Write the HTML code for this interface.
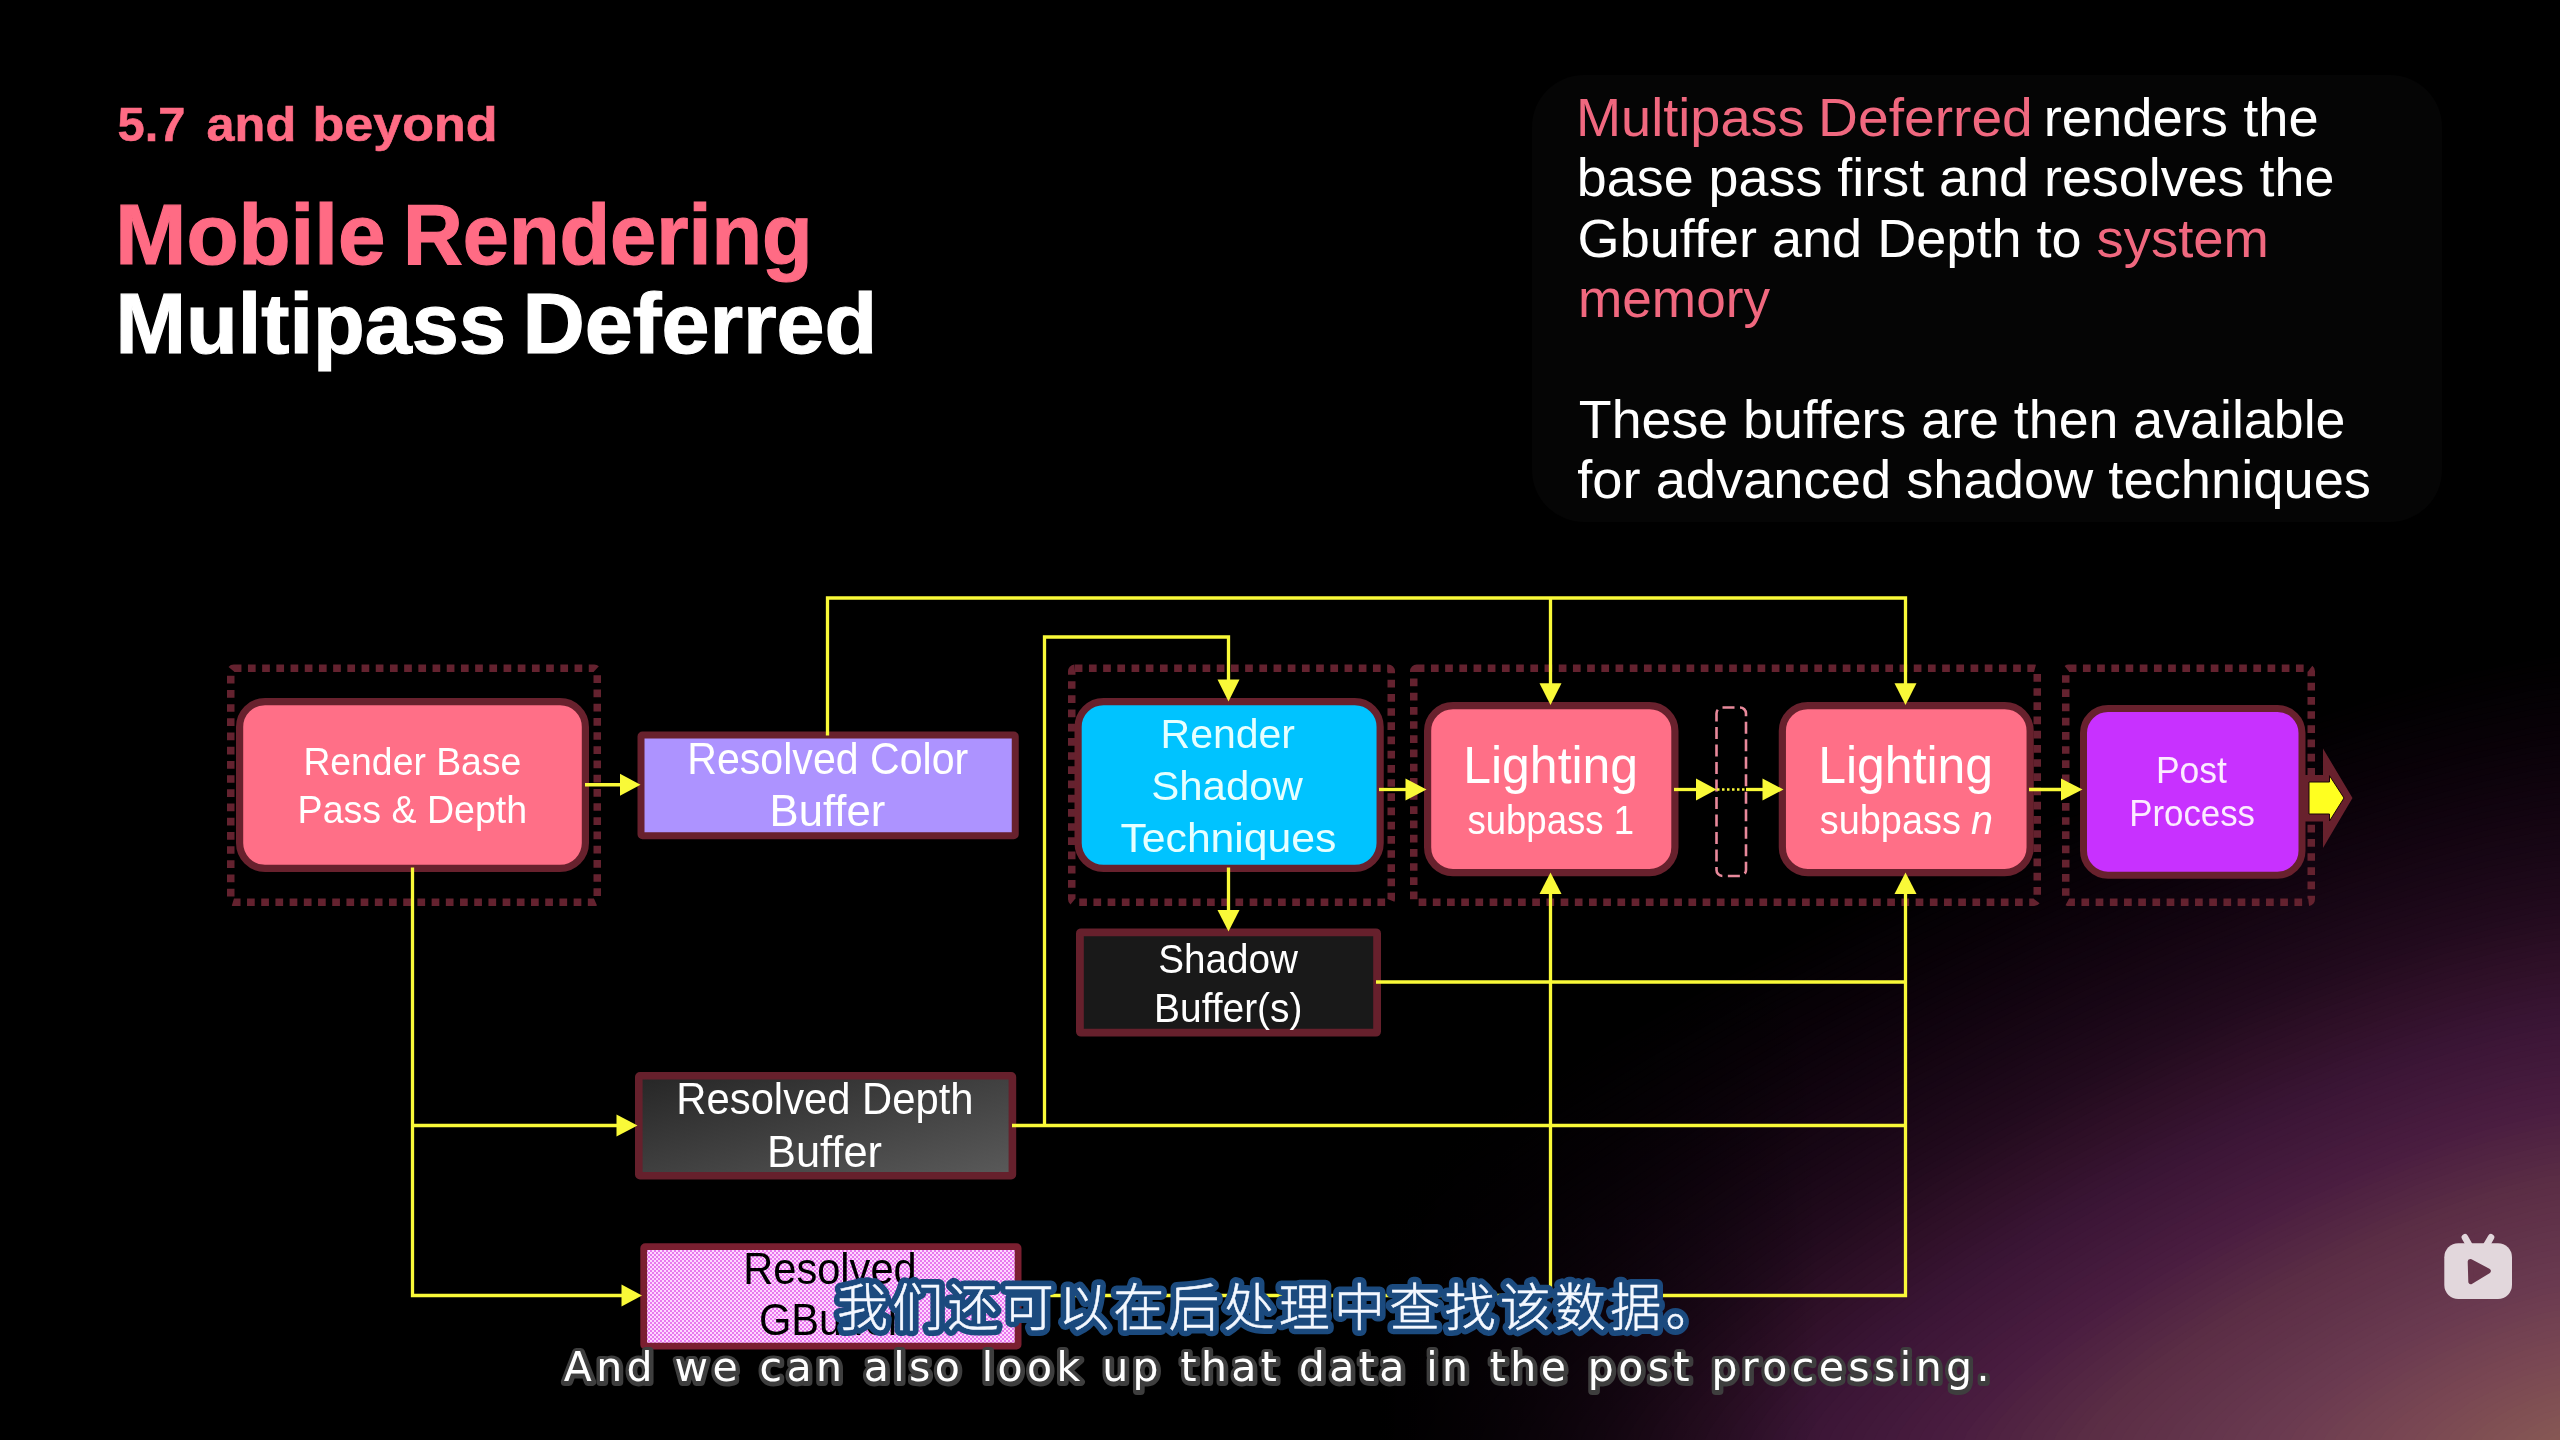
<!DOCTYPE html>
<html lang="zh"><head><meta charset="utf-8"><title>Mobile Rendering - Multipass Deferred</title>
<style>
html,body{margin:0;padding:0;background:#000;}
body{width:2560px;height:1440px;overflow:hidden;position:relative;font-family:"Liberation Sans",sans-serif;}
#bg{position:absolute;left:0;top:0;width:2560px;height:1440px;background:#000;}
svg{position:absolute;left:0;top:0;}
</style></head><body>
<div id="bg"></div>
<svg width="2560" height="1440" viewBox="0 0 2560 1440" style="will-change:transform">
<defs>
<linearGradient id="depthg" x1="0" y1="0" x2="1" y2="1"><stop offset="0" stop-color="#262626"/><stop offset="1" stop-color="#5a5a5a"/></linearGradient>
<pattern id="chk" width="4" height="4" patternUnits="userSpaceOnUse"><rect width="4" height="4" fill="#FFD6FF"/><rect width="2" height="2" fill="#E878EE"/><rect x="2" y="2" width="2" height="2" fill="#E878EE"/></pattern>
</defs>

<g shape-rendering="geometricPrecision">
<polygon points="1131,1440 1140,1422 1165,1387 1205,1342 1262,1290 1332,1232 1415,1170 1509,1107 1612,1043 1722,980 1836,920 1952,863 2068,812 2180,766 2286,728 2381,697 2463,674 2527,661 2560,656 2570,656 2570,1450 1131,1450" fill="rgb(1,0,1)"/>
<polygon points="1142,1440 1151,1422 1175,1387 1216,1343 1272,1291 1342,1233 1424,1172 1517,1109 1619,1046 1728,984 1842,924 1957,868 2072,817 2183,772 2288,733 2383,703 2464,680 2527,667 2560,662 2570,662 2570,1450 1142,1450" fill="rgb(2,0,1)"/>
<polygon points="1154,1440 1162,1422 1186,1388 1227,1344 1282,1292 1351,1235 1433,1174 1525,1112 1627,1049 1735,987 1848,928 1962,872 2076,822 2186,777 2290,739 2384,709 2465,686 2527,673 2560,669 2570,669 2570,1450 1154,1450" fill="rgb(2,0,2)"/>
<polygon points="1165,1440 1173,1422 1197,1388 1237,1344 1292,1293 1361,1237 1442,1177 1534,1115 1634,1052 1742,991 1853,932 1967,877 2080,827 2189,782 2292,745 2386,714 2466,693 2527,679 2560,675 2570,675 2570,1450 1165,1450" fill="rgb(3,0,2)"/>
<polygon points="1176,1440 1184,1422 1208,1389 1248,1345 1303,1294 1371,1238 1451,1179 1542,1117 1642,1055 1748,995 1859,936 1972,881 2084,832 2192,787 2294,750 2387,720 2466,699 2528,685 2560,681 2570,681 2570,1450 1176,1450" fill="rgb(3,0,3)"/>
<polygon points="1188,1440 1196,1422 1219,1389 1259,1346 1313,1295 1380,1240 1460,1181 1550,1120 1649,1058 1755,998 1865,940 1976,886 2088,837 2195,793 2297,756 2388,726 2467,705 2528,691 2560,687 2570,687 2570,1450 1188,1450" fill="rgb(4,1,4)"/>
<polygon points="1199,1440 1207,1423 1230,1389 1269,1347 1323,1297 1390,1242 1469,1183 1558,1122 1657,1062 1761,1002 1870,944 1981,891 2091,841 2198,798 2299,761 2390,732 2468,711 2528,698 2560,693 2570,693 2570,1450 1199,1450" fill="rgb(5,1,4)"/>
<polygon points="1210,1440 1218,1423 1241,1390 1280,1347 1333,1298 1400,1243 1478,1185 1567,1125 1664,1065 1768,1005 1876,948 1986,895 2095,846 2201,803 2301,767 2391,738 2469,717 2528,704 2560,699 2570,699 2570,1450 1210,1450" fill="rgb(5,1,5)"/>
<polygon points="1221,1440 1229,1423 1252,1390 1291,1348 1343,1299 1409,1245 1487,1187 1575,1128 1672,1068 1775,1009 1882,953 1991,900 2099,851 2204,809 2303,773 2393,744 2469,723 2529,710 2560,706 2570,706 2570,1450 1221,1450" fill="rgb(6,1,5)"/>
<polygon points="1232,1440 1240,1423 1263,1391 1301,1349 1354,1300 1419,1246 1496,1189 1583,1130 1679,1071 1781,1013 1887,957 1996,904 2103,856 2207,814 2305,778 2394,750 2470,729 2529,716 2560,712 2570,712 2570,1450 1232,1450" fill="rgb(7,1,6)"/>
<polygon points="1255,1440 1263,1423 1285,1392 1323,1351 1374,1303 1438,1250 1514,1194 1600,1136 1694,1077 1794,1020 1899,965 2005,913 2111,866 2213,825 2310,789 2397,761 2472,741 2529,728 2560,724 2570,724 2570,1450 1255,1450" fill="rgb(8,1,7)"/>
<polygon points="1266,1440 1274,1423 1296,1392 1333,1351 1384,1304 1448,1251 1523,1196 1608,1138 1701,1080 1801,1024 1905,969 2010,918 2115,871 2216,830 2312,795 2398,767 2472,747 2530,734 2560,730 2570,730 2570,1450 1266,1450" fill="rgb(9,1,7)"/>
<polygon points="1278,1440 1285,1424 1307,1392 1344,1352 1395,1305 1458,1253 1532,1198 1616,1141 1709,1084 1808,1027 1910,973 2015,922 2118,876 2219,835 2314,801 2400,773 2473,753 2530,741 2560,736 2570,736 2570,1450 1278,1450" fill="rgb(9,1,8)"/>
<polygon points="1289,1440 1296,1424 1318,1393 1355,1353 1405,1306 1467,1255 1541,1200 1625,1143 1716,1087 1814,1031 1916,977 2019,927 2122,881 2222,841 2316,806 2401,779 2474,759 2530,747 2560,743 2570,743 2570,1450 1289,1450" fill="rgb(10,2,9)"/>
<polygon points="1300,1440 1307,1424 1329,1393 1365,1354 1415,1307 1477,1256 1550,1202 1633,1146 1724,1090 1821,1034 1922,981 2024,931 2126,886 2225,846 2318,812 2402,785 2475,765 2530,753 2560,749 2570,749 2570,1450 1300,1450" fill="rgb(11,2,10)"/>
<polygon points="1311,1440 1319,1424 1340,1394 1376,1354 1425,1309 1487,1258 1559,1204 1641,1149 1731,1093 1827,1038 1927,985 2029,936 2130,891 2228,851 2320,817 2404,791 2476,771 2531,759 2560,755 2570,755 2570,1450 1311,1450" fill="rgb(12,2,10)"/>
<polygon points="1322,1440 1330,1424 1351,1394 1387,1355 1435,1310 1496,1260 1568,1206 1650,1151 1739,1096 1834,1042 1933,989 2034,941 2134,896 2231,856 2322,823 2405,796 2476,777 2531,765 2560,761 2570,761 2570,1450 1322,1450" fill="rgb(12,2,11)"/>
<polygon points="1334,1440 1341,1424 1362,1394 1397,1356 1446,1311 1506,1261 1577,1208 1658,1154 1746,1099 1841,1045 1939,994 2039,945 2138,901 2234,862 2325,829 2407,802 2477,783 2531,771 2560,767 2570,767 2570,1450 1334,1450" fill="rgb(13,3,12)"/>
<polygon points="1345,1440 1352,1424 1373,1395 1408,1357 1456,1312 1516,1263 1586,1211 1666,1157 1754,1102 1847,1049 1944,998 2043,950 2142,906 2237,867 2327,834 2408,808 2478,789 2532,777 2560,773 2570,773 2570,1450 1345,1450" fill="rgb(14,3,12)"/>
<polygon points="1356,1440 1363,1425 1384,1395 1419,1357 1466,1313 1525,1264 1595,1213 1674,1159 1761,1105 1854,1053 1950,1002 2048,954 2146,911 2240,872 2329,840 2410,814 2479,795 2532,783 2560,780 2570,780 2570,1450 1356,1450" fill="rgb(15,3,13)"/>
<polygon points="1368,1440 1374,1425 1395,1396 1429,1358 1476,1314 1535,1266 1604,1215 1683,1162 1769,1109 1860,1056 1956,1006 2053,959 2149,916 2243,878 2331,845 2411,820 2479,801 2532,790 2560,786 2570,786 2570,1450 1368,1450" fill="rgb(16,3,14)"/>
<polygon points="1379,1440 1386,1425 1406,1396 1440,1359 1487,1316 1545,1268 1613,1217 1691,1164 1776,1112 1867,1060 1962,1010 2058,963 2153,921 2246,883 2333,851 2412,826 2480,807 2532,796 2560,792 2570,792 2570,1450 1379,1450" fill="rgb(16,4,15)"/>
<polygon points="1390,1440 1397,1425 1417,1397 1451,1360 1497,1317 1554,1269 1622,1219 1699,1167 1784,1115 1874,1063 1967,1014 2063,968 2157,926 2249,888 2335,857 2414,831 2481,813 2533,802 2560,798 2570,798 2570,1450 1390,1450" fill="rgb(17,4,15)"/>
<polygon points="1401,1440 1408,1425 1428,1397 1461,1361 1507,1318 1564,1271 1631,1221 1707,1170 1791,1118 1880,1067 1973,1018 2067,972 2161,930 2252,894 2338,862 2415,837 2482,819 2533,808 2560,804 2570,804 2570,1450 1401,1450" fill="rgb(18,4,16)"/>
<polygon points="1412,1440 1419,1425 1439,1397 1472,1361 1517,1319 1574,1273 1640,1223 1716,1172 1798,1121 1887,1071 1979,1022 2072,977 2165,935 2255,899 2340,868 2417,843 2482,825 2533,814 2560,810 2570,810 2570,1450 1412,1450" fill="rgb(19,4,17)"/>
<polygon points="1424,1440 1430,1425 1450,1398 1483,1362 1527,1320 1583,1274 1649,1225 1724,1175 1806,1124 1893,1074 1984,1026 2077,981 2169,940 2258,904 2342,874 2418,849 2483,831 2533,820 2560,817 2570,817 2570,1450 1424,1450" fill="rgb(20,5,17)"/>
<polygon points="1435,1440 1442,1426 1461,1398 1493,1363 1538,1322 1593,1276 1658,1228 1732,1178 1813,1127 1900,1078 1990,1030 2082,986 2173,945 2261,909 2344,879 2419,855 2484,837 2534,826 2560,823 2570,823 2570,1450 1435,1450" fill="rgb(21,5,18)"/>
<polygon points="1446,1440 1453,1426 1472,1399 1504,1364 1548,1323 1603,1278 1667,1230 1741,1180 1821,1130 1907,1081 1996,1035 2086,990 2177,950 2264,915 2346,885 2421,861 2485,843 2534,833 2560,829 2570,829 2570,1450 1446,1450" fill="rgb(22,6,19)"/>
<polygon points="1458,1440 1464,1426 1483,1399 1515,1364 1558,1324 1612,1279 1676,1232 1749,1183 1828,1134 1913,1085 2001,1039 2091,995 2180,955 2267,920 2348,890 2422,867 2485,849 2534,839 2560,835 2570,835 2570,1450 1458,1450" fill="rgb(22,6,20)"/>
<polygon points="1469,1440 1475,1426 1494,1400 1525,1365 1568,1325 1622,1281 1685,1234 1757,1185 1836,1137 1920,1089 2007,1043 2096,1000 2184,960 2270,925 2351,896 2424,872 2486,855 2534,845 2560,841 2570,841 2570,1450 1469,1450" fill="rgb(23,6,21)"/>
<polygon points="1480,1440 1486,1426 1505,1400 1536,1366 1579,1326 1632,1283 1694,1236 1765,1188 1843,1140 1926,1092 2013,1047 2101,1004 2188,965 2273,931 2353,902 2425,878 2487,861 2535,851 2560,848 2570,848 2570,1450 1480,1450" fill="rgb(24,7,21)"/>
<polygon points="1491,1440 1498,1426 1516,1400 1547,1367 1589,1327 1641,1284 1703,1238 1774,1191 1851,1143 1933,1096 2019,1051 2106,1009 2192,970 2276,936 2355,907 2426,884 2488,867 2535,857 2560,854 2570,854 2570,1450 1491,1450" fill="rgb(25,7,22)"/>
<polygon points="1502,1440 1509,1426 1527,1401 1557,1367 1599,1329 1651,1286 1712,1240 1782,1193 1858,1146 1940,1100 2024,1055 2110,1013 2196,975 2279,941 2357,913 2428,890 2488,873 2535,863 2560,860 2570,860 2570,1450 1502,1450" fill="rgb(26,7,23)"/>
<polygon points="1514,1440 1520,1427 1538,1401 1568,1368 1609,1330 1661,1287 1721,1242 1790,1196 1866,1149 1946,1103 2030,1059 2115,1018 2200,980 2282,947 2359,918 2429,896 2489,879 2535,869 2560,866 2570,866 2570,1450 1514,1450" fill="rgb(27,8,24)"/>
<polygon points="1525,1440 1531,1427 1549,1402 1579,1369 1619,1331 1670,1289 1730,1245 1799,1199 1873,1152 1953,1107 2036,1063 2120,1022 2204,985 2285,952 2361,924 2431,902 2490,885 2536,876 2560,872 2570,872 2570,1450 1525,1450" fill="rgb(28,8,25)"/>
<polygon points="1536,1440 1542,1427 1560,1402 1589,1370 1630,1332 1680,1291 1739,1247 1807,1201 1881,1155 1959,1110 2041,1067 2125,1027 2208,990 2288,957 2364,930 2432,908 2491,891 2536,882 2560,878 2570,878 2570,1450 1536,1450" fill="rgb(29,9,25)"/>
<polygon points="1548,1440 1553,1427 1571,1402 1600,1371 1640,1333 1690,1292 1749,1249 1815,1204 1888,1159 1966,1114 2047,1071 2129,1031 2211,995 2291,963 2366,935 2433,913 2492,897 2536,888 2560,885 2570,885 2570,1450 1548,1450" fill="rgb(30,9,26)"/>
<polygon points="1559,1440 1565,1427 1582,1403 1611,1371 1650,1335 1699,1294 1758,1251 1823,1206 1896,1162 1973,1118 2053,1075 2134,1036 2215,1000 2294,968 2368,941 2435,919 2492,903 2537,894 2560,891 2570,891 2570,1450 1559,1450" fill="rgb(31,9,27)"/>
<polygon points="1570,1440 1576,1427 1593,1403 1621,1372 1660,1336 1709,1296 1767,1253 1832,1209 1903,1165 1979,1121 2058,1080 2139,1040 2219,1005 2297,973 2370,946 2436,925 2493,910 2537,900 2560,897 2570,897 2570,1450 1570,1450" fill="rgb(32,10,28)"/>
<polygon points="1581,1440 1587,1427 1604,1404 1632,1373 1671,1337 1719,1297 1776,1255 1840,1212 1910,1168 1986,1125 2064,1084 2144,1045 2223,1010 2300,978 2372,952 2438,931 2494,916 2537,906 2560,903 2570,903 2570,1450 1581,1450" fill="rgb(33,10,29)"/>
<polygon points="1592,1440 1598,1428 1615,1404 1643,1374 1681,1338 1728,1299 1785,1257 1848,1214 1918,1171 1992,1129 2070,1088 2149,1049 2227,1015 2303,984 2374,958 2439,937 2495,922 2537,912 2560,909 2570,909 2570,1450 1592,1450" fill="rgb(34,11,30)"/>
<polygon points="1604,1440 1609,1428 1626,1405 1653,1374 1691,1339 1738,1301 1794,1259 1856,1217 1925,1174 1999,1132 2076,1092 2153,1054 2231,1020 2306,989 2376,963 2440,943 2495,928 2538,918 2560,915 2570,915 2570,1450 1604,1450" fill="rgb(36,11,31)"/>
<polygon points="1615,1440 1621,1428 1637,1405 1664,1375 1701,1340 1748,1302 1803,1262 1865,1220 1933,1177 2006,1136 2081,1096 2158,1059 2235,1024 2309,994 2379,969 2442,948 2496,934 2538,925 2560,922 2570,922 2570,1450 1615,1450" fill="rgb(37,12,32)"/>
<polygon points="1626,1440 1632,1428 1648,1405 1675,1376 1711,1342 1757,1304 1812,1264 1873,1222 1940,1180 2012,1139 2087,1100 2163,1063 2239,1029 2312,1000 2381,974 2443,954 2497,940 2538,931 2560,928 2570,928 2570,1450 1626,1450" fill="rgb(39,13,33)"/>
<polygon points="1638,1440 1643,1428 1659,1406 1685,1377 1722,1343 1767,1305 1821,1266 1881,1225 1948,1184 2019,1143 2093,1104 2168,1068 2242,1034 2315,1005 2383,980 2445,960 2498,946 2538,937 2560,934 2570,934 2570,1450 1638,1450" fill="rgb(40,13,34)"/>
<polygon points="1649,1440 1654,1428 1670,1406 1696,1378 1732,1344 1777,1307 1830,1268 1890,1227 1955,1187 2025,1147 2098,1108 2173,1072 2246,1039 2318,1010 2385,986 2446,966 2498,952 2539,943 2560,940 2570,940 2570,1450 1649,1450" fill="rgb(42,14,36)"/>
<polygon points="1660,1440 1665,1428 1681,1407 1707,1378 1742,1345 1786,1309 1839,1270 1898,1230 1963,1190 2032,1150 2104,1112 2177,1077 2250,1044 2321,1016 2387,991 2447,972 2499,958 2539,949 2560,946 2570,946 2570,1450 1660,1450" fill="rgb(43,14,37)"/>
<polygon points="1671,1440 1676,1429 1692,1407 1717,1379 1752,1346 1796,1310 1848,1272 1906,1233 1970,1193 2039,1154 2110,1116 2182,1081 2254,1049 2324,1021 2389,997 2449,978 2500,964 2539,955 2560,952 2570,952 2570,1450 1671,1450" fill="rgb(45,15,38)"/>
<polygon points="1682,1440 1688,1429 1703,1407 1728,1380 1763,1348 1806,1312 1857,1274 1914,1235 1978,1196 2045,1158 2115,1121 2187,1086 2258,1054 2327,1026 2392,1003 2450,984 2501,970 2539,961 2560,959 2570,959 2570,1450 1682,1450" fill="rgb(46,16,39)"/>
<polygon points="1694,1440 1699,1429 1714,1408 1739,1381 1773,1349 1815,1314 1866,1276 1923,1238 1985,1199 2052,1161 2121,1125 2192,1090 2262,1059 2330,1032 2394,1008 2452,989 2501,976 2540,968 2560,965 2570,965 2570,1450 1694,1450" fill="rgb(47,16,40)"/>
<polygon points="1705,1440 1710,1429 1725,1408 1749,1381 1783,1350 1825,1315 1875,1279 1931,1241 1993,1202 2058,1165 2127,1129 2196,1095 2266,1064 2333,1037 2396,1014 2453,995 2502,982 2540,974 2560,971 2570,971 2570,1450 1705,1450" fill="rgb(49,17,42)"/>
<polygon points="1716,1440 1721,1429 1736,1409 1760,1382 1793,1351 1835,1317 1884,1281 1939,1243 2000,1205 2065,1168 2133,1133 2201,1099 2270,1069 2336,1042 2398,1019 2455,1001 2503,988 2540,980 2560,977 2570,977 2570,1450 1716,1450" fill="rgb(50,17,43)"/>
<polygon points="1728,1440 1732,1429 1747,1409 1771,1383 1803,1352 1844,1319 1893,1283 1948,1246 2008,1209 2072,1172 2138,1137 2206,1104 2273,1074 2339,1047 2400,1025 2456,1007 2504,994 2540,986 2560,983 2570,983 2570,1450 1728,1450" fill="rgb(51,18,45)"/>
<polygon points="1739,1440 1744,1429 1758,1410 1781,1384 1814,1354 1854,1320 1902,1285 1956,1248 2015,1212 2078,1176 2144,1141 2211,1109 2277,1079 2342,1053 2402,1031 2457,1013 2504,1000 2541,992 2560,989 2570,989 2570,1450 1739,1450" fill="rgb(52,18,46)"/>
<polygon points="1750,1440 1755,1430 1769,1410 1792,1384 1824,1355 1864,1322 1911,1287 1964,1251 2022,1215 2085,1179 2150,1145 2216,1113 2281,1084 2345,1058 2405,1036 2459,1019 2505,1006 2541,998 2560,996 2570,996 2570,1450 1750,1450" fill="rgb(54,19,48)"/>
<polygon points="1761,1440 1766,1430 1780,1410 1803,1385 1834,1356 1873,1324 1920,1289 1972,1254 2030,1218 2091,1183 2155,1149 2220,1118 2285,1089 2348,1063 2407,1042 2460,1025 2506,1012 2541,1004 2560,1002 2570,1002 2570,1450 1761,1450" fill="rgb(55,20,49)"/>
<polygon points="1772,1440 1777,1430 1791,1411 1813,1386 1844,1357 1883,1325 1929,1291 1981,1256 2037,1221 2098,1187 2161,1153 2225,1122 2289,1094 2351,1069 2409,1047 2462,1030 2507,1018 2542,1010 2560,1008 2570,1008 2570,1450 1772,1450" fill="rgb(56,20,51)"/>
<polygon points="1784,1440 1788,1430 1802,1411 1824,1387 1855,1358 1893,1327 1938,1293 1989,1259 2045,1224 2105,1190 2167,1157 2230,1127 2293,1099 2354,1074 2411,1053 2463,1036 2507,1024 2542,1017 2560,1014 2570,1014 2570,1450 1784,1450" fill="rgb(57,21,52)"/>
<polygon points="1795,1440 1799,1430 1813,1412 1835,1388 1865,1359 1902,1328 1947,1296 1997,1262 2052,1227 2111,1194 2172,1161 2235,1131 2297,1104 2357,1079 2413,1059 2464,1042 2508,1030 2542,1023 2560,1020 2570,1020 2570,1450 1795,1450" fill="rgb(58,21,53)"/>
<polygon points="1806,1440 1811,1430 1824,1412 1845,1388 1875,1361 1912,1330 1956,1298 2005,1264 2060,1230 2118,1197 2178,1166 2239,1136 2301,1109 2360,1085 2415,1064 2466,1048 2509,1036 2542,1029 2560,1026 2570,1026 2570,1450 1806,1450" fill="rgb(60,22,54)"/>
<polygon points="1818,1440 1822,1430 1835,1412 1856,1389 1885,1362 1922,1332 1965,1300 2014,1267 2067,1234 2124,1201 2184,1170 2244,1140 2304,1114 2363,1090 2417,1070 2467,1054 2510,1042 2543,1035 2560,1033 2570,1033 2570,1450 1818,1450" fill="rgb(61,22,55)"/>
<polygon points="1829,1440 1833,1431 1846,1413 1867,1390 1895,1363 1931,1333 1974,1302 2022,1269 2075,1237 2131,1205 2190,1174 2249,1145 2308,1118 2366,1095 2420,1075 2469,1060 2511,1048 2543,1041 2560,1039 2570,1039 2570,1450 1829,1450" fill="rgb(62,23,56)"/>
<polygon points="1840,1440 1844,1431 1857,1413 1877,1391 1906,1364 1941,1335 1983,1304 2030,1272 2082,1240 2138,1208 2195,1178 2254,1149 2312,1123 2369,1100 2422,1081 2470,1066 2511,1054 2543,1047 2560,1045 2570,1045 2570,1450 1840,1450" fill="rgb(63,23,56)"/>
<polygon points="1851,1440 1855,1431 1868,1414 1888,1391 1916,1365 1951,1337 1992,1306 2039,1275 2090,1243 2144,1212 2201,1182 2259,1154 2316,1128 2372,1106 2424,1087 2471,1071 2512,1060 2543,1053 2560,1051 2570,1051 2570,1450 1851,1450" fill="rgb(64,24,57)"/>
<polygon points="1862,1440 1867,1431 1879,1414 1899,1392 1926,1367 1960,1338 2001,1308 2047,1277 2097,1246 2151,1215 2207,1186 2263,1158 2320,1133 2375,1111 2426,1092 2473,1077 2513,1066 2544,1060 2560,1057 2570,1057 2570,1450 1862,1450" fill="rgb(65,25,58)"/>
<polygon points="1874,1440 1878,1431 1890,1415 1909,1393 1936,1368 1970,1340 2010,1310 2055,1280 2105,1249 2157,1219 2212,1190 2268,1163 2324,1138 2378,1116 2428,1098 2474,1083 2514,1072 2544,1066 2560,1064 2570,1064 2570,1450 1874,1450" fill="rgb(66,25,59)"/>
<polygon points="1885,1440 1889,1431 1901,1415 1920,1394 1947,1369 1980,1342 2019,1313 2063,1283 2112,1252 2164,1223 2218,1194 2273,1168 2328,1143 2381,1122 2430,1103 2476,1089 2514,1078 2544,1072 2560,1070 2570,1070 2570,1450 1885,1450" fill="rgb(67,26,60)"/>
<polygon points="1896,1440 1900,1431 1912,1415 1931,1394 1957,1370 1989,1343 2028,1315 2072,1285 2120,1256 2171,1226 2224,1198 2278,1172 2332,1148 2384,1127 2433,1109 2477,1095 2515,1084 2544,1078 2560,1076 2570,1076 2570,1450 1896,1450" fill="rgb(69,26,60)"/>
<polygon points="1908,1440 1911,1432 1923,1416 1941,1395 1967,1371 1999,1345 2037,1317 2080,1288 2127,1259 2177,1230 2229,1202 2283,1177 2335,1153 2387,1132 2435,1115 2478,1101 2516,1090 2545,1084 2560,1082 2570,1082 2570,1450 1908,1450" fill="rgb(70,27,61)"/>
<polygon points="1919,1440 1923,1432 1934,1416 1952,1396 1977,1372 2009,1346 2046,1319 2088,1290 2134,1262 2184,1234 2235,1207 2287,1181 2339,1158 2390,1138 2437,1120 2480,1106 2517,1096 2545,1090 2560,1088 2570,1088 2570,1450 1919,1450" fill="rgb(71,27,62)"/>
<polygon points="1930,1440 1934,1432 1945,1417 1963,1397 1987,1374 2018,1348 2055,1321 2096,1293 2142,1265 2190,1237 2241,1211 2292,1186 2343,1163 2393,1143 2439,1126 2481,1112 2517,1102 2545,1096 2560,1094 2570,1094 2570,1450 1930,1450" fill="rgb(72,28,63)"/>
<polygon points="1941,1440 1945,1432 1956,1417 1973,1398 1998,1375 2028,1350 2064,1323 2105,1296 2149,1268 2197,1241 2247,1215 2297,1190 2347,1168 2396,1148 2441,1132 2483,1118 2518,1108 2546,1103 2560,1101 2570,1101 2570,1450 1941,1450" fill="rgb(73,29,63)"/>
<polygon points="1952,1440 1956,1432 1967,1417 1984,1398 2008,1376 2038,1351 2073,1325 2113,1298 2157,1271 2204,1244 2252,1219 2302,1195 2351,1173 2399,1154 2443,1137 2484,1124 2519,1114 2546,1109 2560,1107 2570,1107 2570,1450 1952,1450" fill="rgb(74,29,64)"/>
<polygon points="1964,1440 1967,1432 1978,1418 1995,1399 2018,1377 2047,1353 2082,1327 2121,1301 2164,1274 2210,1248 2258,1223 2306,1199 2355,1178 2402,1159 2446,1143 2485,1130 2520,1121 2546,1115 2560,1113 2570,1113 2570,1450 1964,1450" fill="rgb(76,31,65)"/>
<polygon points="1975,1440 1978,1432 1989,1418 2005,1400 2028,1378 2057,1355 2091,1330 2130,1304 2172,1277 2217,1252 2264,1227 2311,1204 2359,1183 2405,1164 2448,1148 2487,1136 2520,1127 2546,1121 2560,1119 2570,1119 2570,1450 1975,1450" fill="rgb(77,32,65)"/>
<polygon points="1986,1440 1990,1433 2000,1419 2016,1401 2039,1380 2067,1356 2100,1332 2138,1306 2179,1281 2223,1255 2269,1231 2316,1208 2362,1188 2408,1169 2450,1154 2488,1142 2521,1133 2547,1127 2560,1125 2570,1125 2570,1450 1986,1450" fill="rgb(79,34,65)"/>
<polygon points="1998,1440 2001,1433 2011,1419 2027,1401 2049,1381 2077,1358 2109,1334 2146,1309 2187,1284 2230,1259 2275,1235 2321,1213 2366,1193 2410,1175 2452,1160 2490,1147 2522,1139 2547,1133 2560,1131 2570,1131 2570,1450 1998,1450" fill="rgb(80,35,66)"/>
<polygon points="2009,1440 2012,1433 2022,1420 2037,1402 2059,1382 2086,1360 2118,1336 2154,1311 2194,1287 2237,1263 2281,1239 2326,1218 2370,1198 2413,1180 2454,1165 2491,1153 2523,1145 2547,1139 2560,1138 2570,1138 2570,1450 2009,1450" fill="rgb(81,36,66)"/>
<polygon points="2020,1440 2023,1433 2033,1420 2048,1403 2069,1383 2096,1361 2127,1338 2163,1314 2202,1290 2243,1266 2286,1243 2330,1222 2374,1203 2416,1185 2456,1171 2492,1159 2523,1151 2547,1145 2560,1144 2570,1144 2570,1450 2020,1450" fill="rgb(83,38,67)"/>
<polygon points="2031,1440 2034,1433 2044,1420 2059,1404 2080,1384 2106,1363 2136,1340 2171,1317 2209,1293 2250,1270 2292,1247 2335,1227 2378,1208 2419,1191 2459,1176 2494,1165 2524,1157 2548,1152 2560,1150 2570,1150 2570,1450 2031,1450" fill="rgb(84,39,67)"/>
<polygon points="2042,1440 2046,1433 2055,1421 2069,1405 2090,1386 2115,1365 2145,1342 2179,1319 2217,1296 2256,1273 2298,1252 2340,1231 2382,1212 2422,1196 2461,1182 2495,1171 2525,1163 2548,1158 2560,1156 2570,1156 2570,1450 2042,1450" fill="rgb(85,40,68)"/>
<polygon points="2054,1440 2057,1433 2066,1421 2080,1405 2100,1387 2125,1366 2154,1344 2188,1322 2224,1299 2263,1277 2304,1256 2345,1236 2386,1217 2425,1201 2463,1188 2497,1177 2526,1169 2548,1164 2560,1162 2570,1162 2570,1450 2054,1450" fill="rgb(87,42,68)"/>
<polygon points="2065,1440 2068,1434 2077,1422 2091,1406 2110,1388 2135,1368 2163,1347 2196,1325 2232,1302 2270,1281 2309,1260 2350,1240 2390,1222 2428,1207 2465,1193 2498,1183 2527,1175 2548,1170 2560,1168 2570,1168 2570,1450 2065,1450" fill="rgb(88,43,68)"/>
<polygon points="2076,1440 2079,1434 2088,1422 2101,1407 2120,1389 2144,1369 2172,1349 2204,1327 2239,1306 2276,1284 2315,1264 2354,1245 2393,1227 2431,1212 2467,1199 2500,1188 2527,1181 2549,1176 2560,1175 2570,1175 2570,1450 2076,1450" fill="rgb(90,45,69)"/>
<polygon points="2088,1440 2090,1434 2098,1422 2112,1408 2131,1390 2154,1371 2181,1351 2212,1330 2246,1309 2283,1288 2321,1268 2359,1249 2397,1232 2434,1217 2469,1204 2501,1194 2528,1187 2549,1182 2560,1181 2570,1181 2570,1450 2088,1450" fill="rgb(91,46,69)"/>
<polygon points="2099,1440 2101,1434 2109,1423 2123,1408 2141,1391 2164,1373 2190,1353 2221,1332 2254,1312 2289,1292 2326,1272 2364,1254 2401,1237 2437,1222 2471,1210 2502,1200 2529,1193 2549,1188 2560,1187 2570,1187 2570,1450 2099,1450" fill="rgb(92,46,70)"/>
<polygon points="2110,1440 2113,1434 2120,1423 2133,1409 2151,1393 2173,1374 2199,1355 2229,1335 2261,1315 2296,1295 2332,1276 2369,1258 2405,1242 2440,1228 2474,1216 2504,1206 2530,1199 2549,1195 2560,1193 2570,1193 2570,1450 2110,1450" fill="rgb(93,47,71)"/>
<polygon points="2121,1440 2124,1434 2131,1424 2144,1410 2161,1394 2183,1376 2208,1357 2237,1338 2269,1318 2303,1299 2338,1280 2373,1263 2409,1247 2443,1233 2476,1221 2505,1212 2530,1205 2550,1201 2560,1199 2570,1199 2570,1450 2121,1450" fill="rgb(94,48,71)"/>
<polygon points="2132,1440 2135,1435 2142,1424 2155,1411 2172,1395 2193,1378 2217,1359 2245,1340 2276,1321 2309,1302 2343,1284 2378,1267 2413,1252 2446,1238 2478,1227 2507,1218 2531,1211 2550,1207 2560,1205 2570,1205 2570,1450 2132,1450" fill="rgb(95,49,72)"/>
<polygon points="2144,1440 2146,1435 2153,1425 2165,1411 2182,1396 2202,1379 2226,1361 2254,1343 2284,1324 2316,1306 2349,1288 2383,1272 2417,1257 2449,1244 2480,1232 2508,1224 2532,1217 2550,1213 2560,1212 2570,1212 2570,1450 2144,1450" fill="rgb(96,49,73)"/>
<polygon points="2155,1440 2157,1435 2164,1425 2176,1412 2192,1397 2212,1381 2235,1364 2262,1346 2291,1327 2322,1310 2355,1293 2388,1277 2421,1262 2452,1249 2482,1238 2509,1229 2533,1223 2551,1219 2560,1218 2570,1218 2570,1450 2155,1450" fill="rgb(96,50,73)"/>
<polygon points="2166,1440 2169,1435 2175,1425 2187,1413 2202,1399 2222,1383 2244,1366 2270,1348 2299,1331 2329,1313 2361,1297 2393,1281 2424,1267 2455,1254 2484,1244 2511,1235 2533,1229 2551,1225 2560,1224 2570,1224 2570,1450 2166,1450" fill="rgb(97,51,74)"/>
<polygon points="2178,1440 2180,1435 2186,1426 2197,1414 2212,1400 2231,1384 2253,1368 2279,1351 2306,1334 2336,1317 2366,1301 2397,1286 2428,1272 2458,1260 2487,1249 2512,1241 2534,1235 2551,1231 2560,1230 2570,1230 2570,1450 2178,1450" fill="rgb(98,52,75)"/>
<polygon points="2189,1440 2191,1435 2197,1426 2208,1415 2223,1401 2241,1386 2262,1370 2287,1353 2314,1337 2342,1320 2372,1305 2402,1290 2432,1277 2461,1265 2489,1255 2514,1247 2535,1241 2551,1238 2560,1236 2570,1236 2570,1450 2189,1450" fill="rgb(99,53,75)"/>
<polygon points="2200,1440 2202,1435 2208,1427 2219,1415 2233,1402 2251,1388 2271,1372 2295,1356 2321,1340 2349,1324 2378,1309 2407,1295 2436,1282 2464,1270 2491,1261 2515,1253 2536,1247 2552,1244 2560,1242 2570,1242 2570,1450 2200,1450" fill="rgb(100,53,76)"/>
<polygon points="2211,1440 2213,1436 2219,1427 2229,1416 2243,1403 2260,1389 2280,1374 2303,1359 2329,1343 2355,1328 2383,1313 2412,1299 2440,1287 2467,1276 2493,1266 2516,1259 2536,1253 2552,1250 2560,1249 2570,1249 2570,1450 2211,1450" fill="rgb(101,54,77)"/>
<polygon points="2222,1440 2224,1436 2230,1427 2240,1417 2253,1404 2270,1391 2290,1376 2312,1361 2336,1346 2362,1331 2389,1317 2416,1304 2444,1292 2470,1281 2495,1272 2518,1264 2537,1259 2552,1256 2560,1255 2570,1255 2570,1450 2222,1450" fill="rgb(102,55,77)"/>
<polygon points="2234,1440 2236,1436 2241,1428 2251,1418 2264,1406 2280,1392 2299,1378 2320,1364 2343,1349 2369,1335 2395,1321 2421,1308 2448,1297 2473,1286 2497,1277 2519,1270 2538,1265 2552,1262 2560,1261 2570,1261 2570,1450 2234,1450" fill="rgb(103,56,78)"/>
<polygon points="2245,1440 2247,1436 2252,1428 2261,1418 2274,1407 2289,1394 2308,1381 2328,1367 2351,1352 2375,1339 2400,1325 2426,1313 2452,1301 2476,1291 2500,1283 2521,1276 2539,1271 2553,1268 2560,1267 2570,1267 2570,1450 2245,1450" fill="rgb(104,57,79)"/>
<polygon points="2256,1440 2258,1436 2263,1429 2272,1419 2284,1408 2299,1396 2317,1383 2337,1369 2358,1356 2382,1342 2406,1329 2431,1317 2455,1306 2479,1297 2502,1289 2522,1282 2539,1277 2553,1274 2560,1273 2570,1273 2570,1450 2256,1450" fill="rgb(105,57,79)"/>
<polygon points="2268,1440 2269,1436 2274,1429 2283,1420 2294,1409 2309,1397 2326,1385 2345,1372 2366,1359 2388,1346 2412,1334 2436,1322 2459,1311 2482,1302 2504,1294 2523,1288 2540,1283 2553,1280 2560,1280 2570,1280 2570,1450 2268,1450" fill="rgb(106,58,80)"/>
<polygon points="2279,1440 2280,1436 2285,1430 2293,1421 2304,1410 2318,1399 2335,1387 2353,1374 2373,1362 2395,1349 2418,1338 2440,1326 2463,1316 2485,1307 2506,1300 2525,1294 2541,1289 2553,1287 2560,1286 2570,1286 2570,1450 2279,1450" fill="rgb(107,59,80)"/>
<polygon points="2290,1440 2292,1437 2296,1430 2304,1421 2315,1412 2328,1401 2344,1389 2361,1377 2381,1365 2402,1353 2423,1342 2445,1331 2467,1321 2488,1313 2508,1305 2526,1300 2542,1295 2554,1293 2560,1292 2570,1292 2570,1450 2290,1450" fill="rgb(109,60,80)"/>
<polygon points="2301,1440 2303,1437 2307,1430 2315,1422 2325,1413 2338,1402 2353,1391 2370,1380 2388,1368 2408,1357 2429,1346 2450,1336 2471,1326 2491,1318 2510,1311 2528,1305 2542,1301 2554,1299 2560,1298 2570,1298 2570,1450 2301,1450" fill="rgb(110,61,81)"/>
<polygon points="2312,1440 2314,1437 2318,1431 2325,1423 2335,1414 2347,1404 2362,1393 2378,1382 2396,1371 2415,1360 2435,1350 2455,1340 2475,1331 2494,1323 2512,1317 2529,1311 2543,1307 2554,1305 2560,1304 2570,1304 2570,1450 2312,1450" fill="rgb(111,62,81)"/>
<polygon points="2324,1440 2325,1437 2329,1431 2336,1424 2345,1415 2357,1406 2371,1395 2386,1385 2403,1374 2421,1364 2440,1354 2460,1345 2479,1336 2497,1329 2515,1322 2530,1317 2544,1313 2554,1311 2560,1310 2570,1310 2570,1450 2324,1450" fill="rgb(112,64,81)"/>
<polygon points="2335,1440 2336,1437 2340,1432 2347,1425 2356,1416 2367,1407 2380,1398 2394,1388 2411,1377 2428,1368 2446,1358 2464,1349 2483,1341 2500,1334 2517,1328 2532,1323 2545,1319 2555,1317 2560,1317 2570,1317 2570,1450 2335,1450" fill="rgb(114,65,81)"/>
<polygon points="2346,1440 2348,1437 2351,1432 2357,1425 2366,1417 2376,1409 2389,1400 2403,1390 2418,1381 2435,1371 2452,1362 2469,1354 2486,1346 2503,1339 2519,1333 2533,1329 2546,1325 2555,1323 2560,1323 2570,1323 2570,1450 2346,1450" fill="rgb(115,66,82)"/>
<polygon points="2358,1440 2359,1437 2362,1432 2368,1426 2376,1419 2386,1410 2398,1402 2411,1393 2426,1384 2441,1375 2457,1366 2474,1358 2490,1351 2506,1345 2521,1339 2535,1335 2546,1331 2555,1330 2560,1329 2570,1329 2570,1450 2358,1450" fill="rgb(116,67,82)"/>
<polygon points="2369,1440 2370,1438 2373,1433 2379,1427 2386,1420 2396,1412 2407,1404 2419,1395 2433,1387 2448,1378 2463,1370 2479,1363 2494,1356 2509,1350 2523,1345 2536,1341 2547,1338 2556,1336 2560,1335 2570,1335 2570,1450 2369,1450" fill="rgb(117,68,82)"/>
<polygon points="2380,1440 2381,1438 2384,1433 2389,1428 2396,1421 2405,1414 2416,1406 2428,1398 2441,1390 2454,1382 2469,1374 2483,1367 2498,1361 2512,1355 2525,1350 2537,1346 2548,1344 2556,1342 2560,1341 2570,1341 2570,1450 2380,1450" fill="rgb(119,69,82)"/>
<polygon points="2391,1440 2392,1438 2395,1434 2400,1428 2407,1422 2415,1415 2425,1408 2436,1401 2448,1393 2461,1386 2475,1379 2488,1372 2502,1366 2515,1360 2528,1356 2539,1352 2549,1350 2556,1348 2560,1347 2570,1347 2570,1450 2391,1450" fill="rgb(120,70,83)"/>
<polygon points="2402,1440 2403,1438 2406,1434 2411,1429 2417,1423 2425,1417 2434,1410 2444,1403 2455,1396 2468,1389 2480,1383 2493,1376 2506,1371 2518,1366 2530,1361 2540,1358 2549,1356 2556,1354 2560,1354 2570,1354 2570,1450 2402,1450" fill="rgb(121,71,83)"/>
<polygon points="2414,1440 2415,1438 2417,1435 2421,1430 2427,1425 2434,1419 2443,1412 2452,1406 2463,1399 2474,1393 2486,1387 2498,1381 2510,1376 2521,1371 2532,1367 2542,1364 2550,1362 2557,1360 2560,1360 2570,1360 2570,1450 2414,1450" fill="rgb(122,72,83)"/>
<polygon points="2425,1440 2426,1438 2428,1435 2432,1431 2437,1426 2444,1420 2452,1415 2461,1409 2470,1402 2481,1397 2492,1391 2503,1386 2514,1381 2524,1376 2534,1373 2543,1370 2551,1368 2557,1366 2560,1366 2570,1366 2570,1450 2425,1450" fill="rgb(123,74,83)"/>
<polygon points="2436,1440 2437,1438 2439,1435 2443,1432 2448,1427 2454,1422 2461,1417 2469,1411 2478,1406 2487,1400 2497,1395 2507,1390 2517,1386 2527,1382 2536,1378 2545,1376 2552,1374 2557,1373 2560,1372 2570,1372 2570,1450 2436,1450" fill="rgb(124,75,83)"/>
<polygon points="2448,1440 2448,1439 2450,1436 2453,1432 2458,1428 2463,1424 2470,1419 2477,1414 2485,1409 2494,1404 2503,1399 2512,1395 2521,1391 2530,1387 2538,1384 2546,1381 2552,1380 2557,1379 2560,1378 2570,1378 2570,1450 2448,1450" fill="rgb(125,76,83)"/>
<polygon points="2459,1440 2459,1439 2461,1436 2464,1433 2468,1429 2473,1425 2479,1421 2486,1416 2493,1412 2501,1407 2509,1403 2517,1399 2525,1395 2533,1392 2541,1390 2547,1387 2553,1386 2558,1385 2560,1384 2570,1384 2570,1450 2459,1450" fill="rgb(126,77,83)"/>
<polygon points="2470,1440 2471,1439 2472,1437 2475,1434 2478,1431 2483,1427 2488,1423 2494,1419 2500,1415 2507,1411 2514,1407 2522,1404 2529,1400 2536,1398 2543,1395 2549,1393 2554,1392 2558,1391 2560,1391 2570,1391 2570,1450 2470,1450" fill="rgb(127,79,83)"/>
<polygon points="2481,1440 2482,1439 2483,1437 2485,1435 2488,1432 2492,1429 2497,1425 2502,1422 2508,1418 2514,1415 2520,1411 2527,1408 2533,1405 2539,1403 2545,1401 2550,1399 2555,1398 2558,1397 2560,1397 2570,1397 2570,1450 2481,1450" fill="rgb(128,80,83)"/>
<polygon points="2492,1440 2493,1439 2494,1437 2496,1435 2499,1433 2502,1430 2506,1427 2510,1424 2515,1421 2520,1418 2526,1415 2531,1413 2537,1410 2542,1408 2547,1406 2552,1405 2555,1404 2558,1403 2560,1403 2570,1403 2570,1450 2492,1450" fill="rgb(129,81,84)"/>
<polygon points="2504,1440 2504,1439 2505,1438 2507,1436 2509,1434 2512,1432 2515,1429 2519,1427 2523,1424 2527,1422 2532,1420 2536,1417 2541,1415 2545,1413 2549,1412 2553,1411 2556,1410 2559,1409 2560,1409 2570,1409 2570,1450 2504,1450" fill="rgb(130,82,84)"/>
<polygon points="2515,1440 2515,1439 2516,1438 2517,1437 2519,1435 2521,1433 2524,1432 2527,1430 2530,1427 2534,1426 2537,1424 2541,1422 2545,1420 2548,1419 2551,1418 2554,1417 2557,1416 2559,1415 2560,1415 2570,1415 2570,1450 2515,1450" fill="rgb(131,84,84)"/>
<polygon points="2526,1440 2526,1440 2527,1439 2528,1438 2529,1436 2531,1435 2533,1434 2535,1432 2538,1431 2540,1429 2543,1428 2546,1426 2548,1425 2551,1424 2554,1423 2556,1422 2558,1422 2559,1422 2560,1421 2570,1421 2570,1450 2526,1450" fill="rgb(132,85,84)"/>
<polygon points="2538,1440 2538,1440 2538,1439 2539,1438 2540,1438 2541,1437 2542,1436 2543,1435 2545,1434 2547,1433 2549,1432 2550,1431 2552,1430 2554,1429 2556,1429 2557,1428 2558,1428 2559,1428 2560,1428 2570,1428 2570,1450 2538,1450" fill="rgb(133,86,84)"/>
<polygon points="2549,1440 2549,1440 2549,1440 2549,1439 2550,1439 2550,1438 2551,1438 2552,1437 2553,1437 2553,1436 2554,1436 2555,1435 2556,1435 2557,1435 2558,1434 2559,1434 2559,1434 2560,1434 2560,1434 2570,1434 2570,1450 2549,1450" fill="rgb(134,87,84)"/>
</g>
<linearGradient id="lf" x1="1380" y1="0" x2="1820" y2="0" gradientUnits="userSpaceOnUse"><stop offset="0" stop-color="#000" stop-opacity="1"/><stop offset="1" stop-color="#000" stop-opacity="0"/></linearGradient>
<rect x="1000" y="600" width="820" height="840" fill="url(#lf)"/>
<text x="117.59" y="141" font-family='"Liberation Sans", sans-serif' font-size="48.5" font-weight="700" fill="#FF6B84" textLength="67.82" lengthAdjust="spacingAndGlyphs" stroke="#FF6B84" stroke-width="0.6">5.7</text>
<text x="206.59" y="141" font-family='"Liberation Sans", sans-serif' font-size="48.5" font-weight="700" fill="#FF6B84" textLength="89.64" lengthAdjust="spacingAndGlyphs" stroke="#FF6B84" stroke-width="0.6">and</text>
<text x="312.52" y="141" font-family='"Liberation Sans", sans-serif' font-size="48.5" font-weight="700" fill="#FF6B84" textLength="185.00" lengthAdjust="spacingAndGlyphs" stroke="#FF6B84" stroke-width="0.6">beyond</text>
<text x="115.36" y="264.4" font-family='"Liberation Sans", sans-serif' font-size="85" font-weight="700" fill="#FF6B84" textLength="269.96" lengthAdjust="spacingAndGlyphs" stroke="#FF6B84" stroke-width="1.2">Mobile</text>
<text x="403.02" y="264.4" font-family='"Liberation Sans", sans-serif' font-size="85" font-weight="700" fill="#FF6B84" textLength="409.56" lengthAdjust="spacingAndGlyphs" stroke="#FF6B84" stroke-width="1.2">Rendering</text>
<text x="115.39" y="352.5" font-family='"Liberation Sans", sans-serif' font-size="85" font-weight="700" fill="#fff" textLength="390.66" lengthAdjust="spacingAndGlyphs" stroke="#fff" stroke-width="1.2">Multipass</text>
<text x="522.49" y="352.5" font-family='"Liberation Sans", sans-serif' font-size="85" font-weight="700" fill="#fff" textLength="354.66" lengthAdjust="spacingAndGlyphs" stroke="#fff" stroke-width="1.2">Deferred</text>
<rect x="1532" y="75" width="910" height="447" rx="52" ry="52" fill="#050505"/>
<text x="1575.97" y="136.1" font-family='"Liberation Sans", sans-serif' font-size="53.5" font-weight="400" fill="#F0687F" textLength="228.66" lengthAdjust="spacingAndGlyphs">Multipass</text>
<text x="1818.08" y="136.1" font-family='"Liberation Sans", sans-serif' font-size="53.5" font-weight="400" fill="#F0687F" textLength="214.75" lengthAdjust="spacingAndGlyphs">Deferred</text>
<text x="2043.77" y="136.1" font-family='"Liberation Sans", sans-serif' font-size="53.5" font-weight="400" fill="#fff" textLength="184.28" lengthAdjust="spacingAndGlyphs">renders</text>
<text x="2243.29" y="136.1" font-family='"Liberation Sans", sans-serif' font-size="53.5" font-weight="400" fill="#fff" textLength="75.47" lengthAdjust="spacingAndGlyphs">the</text>
<text x="1576.80" y="196.3" font-family='"Liberation Sans", sans-serif' font-size="53.5" font-weight="400" fill="#fff" textLength="757.60" lengthAdjust="spacingAndGlyphs">base pass first and resolves the</text>
<text x="1577.60" y="256.6" font-family='"Liberation Sans", sans-serif' font-size="53.5" font-weight="400" fill="#fff" textLength="504.04" lengthAdjust="spacingAndGlyphs">Gbuffer and Depth to</text>
<text x="2096.47" y="256.6" font-family='"Liberation Sans", sans-serif' font-size="53.5" font-weight="400" fill="#F0687F" textLength="172.41" lengthAdjust="spacingAndGlyphs">system</text>
<text x="1577.94" y="316.8" font-family='"Liberation Sans", sans-serif' font-size="53.5" font-weight="400" fill="#F0687F" textLength="192.14" lengthAdjust="spacingAndGlyphs">memory</text>
<text x="1578.83" y="437.5" font-family='"Liberation Sans", sans-serif' font-size="53.5" font-weight="400" fill="#fff" textLength="766.63" lengthAdjust="spacingAndGlyphs">These buffers are then available</text>
<text x="1577.19" y="497.8" font-family='"Liberation Sans", sans-serif' font-size="53.5" font-weight="400" fill="#fff" textLength="793.79" lengthAdjust="spacingAndGlyphs">for advanced shadow techniques</text>
<rect x="230.75" y="668.25" width="366.5" height="234.0" rx="3" ry="3" fill="none" stroke="#64222F" stroke-width="7.5" stroke-dasharray="7.7 6.5"/>
<rect x="1071.75" y="668.25" width="319.5" height="234.0" rx="3" ry="3" fill="none" stroke="#64222F" stroke-width="7.5" stroke-dasharray="7.7 6.5"/>
<rect x="1413.75" y="668.25" width="623.5" height="234.0" rx="3" ry="3" fill="none" stroke="#64222F" stroke-width="7.5" stroke-dasharray="7.7 6.5"/>
<rect x="2065.75" y="668.25" width="245.5" height="234.0" rx="3" ry="3" fill="none" stroke="#64222F" stroke-width="7.5" stroke-dasharray="7.7 6.5"/>
<rect x="239.6" y="701.6" width="345.8" height="166.8" rx="25.4" ry="25.4" fill="#FF6F87" stroke="#68212D" stroke-width="7.2"/>
<rect x="641.0" y="735.0" width="374.25" height="100.70000000000005" rx="1.5" ry="1.5" fill="#AD93FF" stroke="#68212D" stroke-width="7"/>
<rect x="1078.1" y="701.6" width="302.05" height="166.8" rx="25.4" ry="25.4" fill="#00C3FF" stroke="#68212D" stroke-width="7.2"/>
<rect x="1427.6" y="705.6" width="247.3" height="167.00000000000006" rx="25.4" ry="25.4" fill="#FF6F87" stroke="#68212D" stroke-width="7.2"/>
<rect x="1782.35" y="705.6" width="247.8" height="167.00000000000006" rx="25.4" ry="25.4" fill="#FF6F87" stroke="#68212D" stroke-width="7.2"/>
<rect x="2083.5" y="708.5" width="218.5" height="166.75" rx="24.5" ry="24.5" fill="#C831FF" stroke="#68212D" stroke-width="7"/>
<rect x="1079.9" y="932.3" width="297.2" height="100.39999999999993" rx="1.1" ry="1.1" fill="#191919" stroke="#66202C" stroke-width="7.8"/>
<rect x="638.8" y="1075.8" width="373.6" height="99.9" rx="1.2000000000000002" ry="1.2000000000000002" fill="url(#depthg)" stroke="#66202C" stroke-width="7.6"/>
<rect x="643.6999999999999" y="1246.6000000000001" width="374.40000000000003" height="99.49999999999996" rx="1.6" ry="1.6" fill="url(#chk)" stroke="#7A1F30" stroke-width="6.8"/>
<rect x="1716.5" y="707.5" width="29.5" height="168.5" rx="6" ry="6" fill="none" stroke="#E8899B" stroke-width="2.6" stroke-dasharray="12 5.5"/>
<polygon points="2304,775 2323,775 2323,748.5 2352.5,798 2323,848 2323,821.5 2304,821.5" fill="#68212D"/>
<polygon points="2309,782 2329.5,782 2329.5,775.7 2344,798 2329.5,821 2329.5,814 2309,814" fill="#FFFF20" stroke="#1a0508" stroke-width="1"/>
<polyline points="412.5,867.5 412.5,1295.5 624,1295.5" fill="none" stroke="#F9F938" stroke-width="3.3" stroke-linejoin="miter"/>
<polyline points="412.5,1125.5 618,1125.5" fill="none" stroke="#F9F938" stroke-width="3.3" stroke-linejoin="miter"/>
<polyline points="827.5,735.5 827.5,598 1905.5,598 1905.5,685" fill="none" stroke="#F9F938" stroke-width="3.3" stroke-linejoin="miter"/>
<polyline points="1550.5,598 1550.5,685" fill="none" stroke="#F9F938" stroke-width="3.3" stroke-linejoin="miter"/>
<polyline points="1012,1125.5 1905.5,1125.5" fill="none" stroke="#F9F938" stroke-width="3.3" stroke-linejoin="miter"/>
<polyline points="1044.5,1125.5 1044.5,637 1228.5,637 1228.5,681" fill="none" stroke="#F9F938" stroke-width="3.3" stroke-linejoin="miter"/>
<polyline points="1228.5,867.5 1228.5,911" fill="none" stroke="#F9F938" stroke-width="3.3" stroke-linejoin="miter"/>
<polyline points="1376,982 1905.5,982" fill="none" stroke="#F9F938" stroke-width="3.3" stroke-linejoin="miter"/>
<polyline points="1017,1295.5 1905.5,1295.5 1905.5,892" fill="none" stroke="#F9F938" stroke-width="3.3" stroke-linejoin="miter"/>
<polyline points="1550.5,1295.5 1550.5,892" fill="none" stroke="#F9F938" stroke-width="3.3" stroke-linejoin="miter"/>
<polygon points="1217.5,679.5 1228.5,701.5 1239.5,679.5" fill="#F9F938"/>
<polygon points="1539.5,683.2 1550.5,705 1561.5,683.2" fill="#F9F938"/>
<polygon points="1894.5,683.2 1905.5,705 1916.5,683.2" fill="#F9F938"/>
<polygon points="1217.5,910 1228.5,931.5 1239.5,910" fill="#F9F938"/>
<polygon points="1539.5,894 1550.5,872.5 1561.5,894" fill="#F9F938"/>
<polygon points="1894.5,894 1905.5,872.5 1916.5,894" fill="#F9F938"/>
<polygon points="616.5,1114.5 637.5,1125.5 616.5,1136.5" fill="#F9F938"/>
<polygon points="621.5,1284.5 642,1295.5 621.5,1306.5" fill="#F9F938"/>
<line x1="585" y1="784.75" x2="621" y2="784.75" stroke="#F9F938" stroke-width="3.3"/><polygon points="620,773.75 640.5,784.75 620,795.75" fill="#F9F938"/>
<line x1="1379" y1="789.5" x2="1406.5" y2="789.5" stroke="#F9F938" stroke-width="3.3"/><polygon points="1405.5,778.5 1426.5,789.5 1405.5,800.5" fill="#F9F938"/>
<line x1="1674" y1="789.5" x2="1697" y2="789.5" stroke="#F9F938" stroke-width="3.3"/><polygon points="1696,778.5 1716.5,789.5 1696,800.5" fill="#F9F938"/>
<line x1="1717" y1="789.5" x2="1746" y2="789.5" stroke="#F9F938" stroke-width="2.5" stroke-dasharray="2.5 2.5"/>
<line x1="1746" y1="789.5" x2="1763.5" y2="789.5" stroke="#F9F938" stroke-width="3.3"/><polygon points="1762.5,778.5 1783.5,789.5 1762.5,800.5" fill="#F9F938"/>
<line x1="2029" y1="789.5" x2="2062" y2="789.5" stroke="#F9F938" stroke-width="3.3"/><polygon points="2061,778.5 2082.5,789.5 2061,800.5" fill="#F9F938"/>
<text x="303.41" y="775.4" font-family='"Liberation Sans", sans-serif' font-size="39" font-weight="400" fill="#fff" textLength="217.84" lengthAdjust="spacingAndGlyphs">Render Base</text>
<text x="297.60" y="822.8" font-family='"Liberation Sans", sans-serif' font-size="39" font-weight="400" fill="#fff" textLength="229.52" lengthAdjust="spacingAndGlyphs">Pass &amp; Depth</text>
<text x="687.31" y="773.75" font-family='"Liberation Sans", sans-serif' font-size="43.5" font-weight="400" fill="#fff" textLength="280.87" lengthAdjust="spacingAndGlyphs">Resolved Color</text>
<text x="769.61" y="826.25" font-family='"Liberation Sans", sans-serif' font-size="43.5" font-weight="400" fill="#fff" textLength="115.66" lengthAdjust="spacingAndGlyphs">Buffer</text>
<text x="1160.52" y="747.8" font-family='"Liberation Sans", sans-serif' font-size="41.2" font-weight="400" fill="#E6FFFF" textLength="134.50" lengthAdjust="spacingAndGlyphs">Render</text>
<text x="1151.21" y="799.7" font-family='"Liberation Sans", sans-serif' font-size="41.2" font-weight="400" fill="#E6FFFF" textLength="151.74" lengthAdjust="spacingAndGlyphs">Shadow</text>
<text x="1120.45" y="851.7" font-family='"Liberation Sans", sans-serif' font-size="41.2" font-weight="400" fill="#E6FFFF" textLength="216.01" lengthAdjust="spacingAndGlyphs">Techniques</text>
<text x="1463.26" y="783.1" font-family='"Liberation Sans", sans-serif' font-size="52" font-weight="400" fill="#fff" textLength="174.89" lengthAdjust="spacingAndGlyphs">Lighting</text>
<text x="1467.40" y="834.4" font-family='"Liberation Sans", sans-serif' font-size="41.5" font-weight="400" fill="#fff" textLength="166.69" lengthAdjust="spacingAndGlyphs">subpass 1</text>
<text x="1818.26" y="783.1" font-family='"Liberation Sans", sans-serif' font-size="52" font-weight="400" fill="#fff" textLength="174.89" lengthAdjust="spacingAndGlyphs">Lighting</text>
<text x="1819.86" y="834.4" font-family='"Liberation Sans", sans-serif' font-size="41.5" font-weight="400" fill="#fff" textLength="140.95" lengthAdjust="spacingAndGlyphs">subpass</text>
<text x="1970.91" y="834.4" font-family='"Liberation Sans", sans-serif' font-size="41.5" font-weight="400" fill="#fff" textLength="21.91" lengthAdjust="spacingAndGlyphs" font-style="italic">n</text>
<text x="2155.91" y="782.9" font-family='"Liberation Sans", sans-serif' font-size="37" font-weight="400" fill="#FCEBFF" textLength="71.00" lengthAdjust="spacingAndGlyphs">Post</text>
<text x="2129.21" y="826.25" font-family='"Liberation Sans", sans-serif' font-size="37" font-weight="400" fill="#FCEBFF" textLength="125.84" lengthAdjust="spacingAndGlyphs">Process</text>
<text x="1158.26" y="972.9" font-family='"Liberation Sans", sans-serif' font-size="41.5" font-weight="400" fill="#fff" textLength="139.80" lengthAdjust="spacingAndGlyphs">Shadow</text>
<text x="1154.09" y="1021.6" font-family='"Liberation Sans", sans-serif' font-size="41.5" font-weight="400" fill="#fff" textLength="148.39" lengthAdjust="spacingAndGlyphs">Buffer(s)</text>
<text x="676.36" y="1114.1" font-family='"Liberation Sans", sans-serif' font-size="43.5" font-weight="400" fill="#fff" textLength="297.17" lengthAdjust="spacingAndGlyphs">Resolved Depth</text>
<text x="767.03" y="1167.3" font-family='"Liberation Sans", sans-serif' font-size="43.5" font-weight="400" fill="#fff" textLength="114.94" lengthAdjust="spacingAndGlyphs">Buffer</text>
<text x="743.27" y="1283.8" font-family='"Liberation Sans", sans-serif' font-size="43.5" font-weight="400" fill="#000" textLength="173.39" lengthAdjust="spacingAndGlyphs">Resolved</text>
<text x="758.92" y="1335.4" font-family='"Liberation Sans", sans-serif' font-size="43.5" font-weight="400" fill="#000" textLength="142.83" lengthAdjust="spacingAndGlyphs">GBuffer</text>
<g fill="#E2D7DC" stroke="none">
<rect x="2444.3" y="1243.2" width="67.7" height="55.8" rx="14" ry="14"/>
<path d="M2464.9 1237.3 L2469.5 1245.5 M2491 1237.3 L2486.3 1245.5" stroke="#E2D7DC" stroke-width="6.6" stroke-linecap="round" fill="none"/>
</g>
<path d="M2470.3 1261.6 L2488.2 1271.1 L2470.9 1281.6 Z" fill="#66354B" stroke="#66354B" stroke-width="5.2" stroke-linejoin="round"/>

<g style="will-change:transform">
<text x="837" y="1326" font-family='"Liberation Sans", "Noto Sans CJK SC", sans-serif' font-size="51" font-weight="300" fill="#1B4A7E" textLength="879.5" lengthAdjust="spacing" stroke="#1B4A7E" stroke-width="12" stroke-linejoin="round">我们还可以在后处理中查找该数据。</text>
<text x="837" y="1326" font-family='"Liberation Sans", "Noto Sans CJK SC", sans-serif' font-size="51" font-weight="300" fill="#F4F8FF" textLength="879.5" lengthAdjust="spacing" stroke="#F4F8FF" stroke-width="0.5">我们还可以在后处理中查找该数据。</text>
<text x="563.7" y="1381.4" font-family='"DejaVu Sans", "Liberation Sans", sans-serif' font-size="41" fill="#3e3e3e" textLength="1425.8" lengthAdjust="spacing" stroke="#3e3e3e" stroke-width="8" stroke-linejoin="round" transform="translate(0.7,0.9)">And we can also look up that data in the post processing.</text>
<text x="563.7" y="1381.4" font-family='"DejaVu Sans", "Liberation Sans", sans-serif' font-size="41" fill="#fff" textLength="1425.8" lengthAdjust="spacing">And we can also look up that data in the post processing.</text>
</g>
</svg></body></html>
